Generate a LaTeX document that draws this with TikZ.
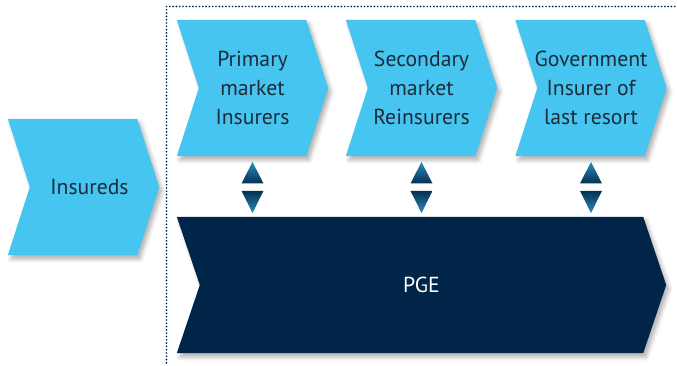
\documentclass[tikz,border=0pt]{standalone}
\usepackage{fontspec}
\setmainfont{PT Sans}
\usetikzlibrary{shadows.blur,backgrounds,calc}
\definecolor{lblue}{HTML}{45C5EF}
\definecolor{navy}{HTML}{002548}
\definecolor{txt}{HTML}{1E2B3A}
\definecolor{tlight}{HTML}{2A8DBE}
\definecolor{tdark}{HTML}{04304F}
\newcommand\mychev[3]{%
  \fill[#3] (#1.north west) -- ([xshift=-#2]#1.north east) -- (#1.east)
    -- ([xshift=-#2]#1.south east) -- (#1.south west) -- ([xshift=#2]#1.west) -- cycle;}
\begin{document}
\begin{tikzpicture}[x=1pt,y=-1pt,
  chevbox/.style={minimum width=151pt, minimum height=136pt, inner sep=0pt,
    align=center, font=\fontsize{21.7}{29}\selectfont, text=txt},
  lightfill/.style={fill=lblue, blur shadow={shadow xshift=3pt, shadow yshift=-4pt,
    shadow blur radius=4pt, shadow opacity=30}},
  darkfill/.style={fill=navy, blur shadow={shadow xshift=3pt, shadow yshift=-4pt,
    shadow blur radius=4pt, shadow opacity=30}},
  upshade/.style={top color=tlight, bottom color=tdark},
  downshade/.style={top color=tdark, bottom color=tlight},
  framedot/.style={fill=navy}]
\useasboundingbox (0,0) rectangle (677,366);

% dotted frame
\foreach \i in {0,...,108} \fill[framedot] (166.5,6.5+3.3*\i) circle (0.95pt);
\foreach \i in {1,...,154} \fill[framedot] (166.5+3.3*\i,6.5) circle (0.95pt);

% nodes
\node[chevbox] (ins) at (83.5,187) {\hspace*{12pt}Insureds};
\node[chevbox] (p1) at (252.5,88) {Primary\\market\\Insurers};
\node[chevbox] (p2) at (421.5,88) {Secondary\\market\\Reinsurers};
\node[chevbox] (p3) at (591,88) {Government\\Insurer of\\last resort};
\node[chevbox, minimum width=489pt, text=white] (pge) at (421.5,285) {PGE};

\begin{pgfonlayer}{background}
  \mychev{ins}{22pt}{lightfill}
  \mychev{p1}{22pt}{lightfill}
  \mychev{p2}{22pt}{lightfill}
  \mychev{p3}{22pt}{lightfill}
  \mychev{pge}{23pt}{darkfill}
\end{pgfonlayer}

% double triangle connectors
\foreach \n in {p1,p2,p3}{
  \coordinate (u\n) at ($(\n.south)+(0,5.7)$);
  \coordinate (d\n) at ($(\n.south |- pge.north)+(0,-3.7)$);
  \shade[upshade] (u\n) -- ++(11,21.6) -- ++(-22,0) -- cycle;
  \shade[downshade] (d\n) -- ++(-11,-22.3) -- ++(22,0) -- cycle;
}
\end{tikzpicture}
\end{document}
